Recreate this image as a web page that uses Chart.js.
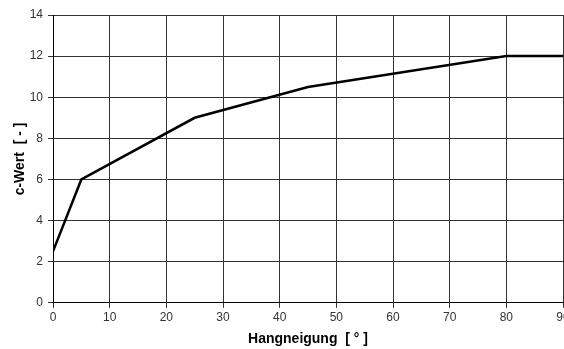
<!DOCTYPE html>
<html lang="de">
<head>
  <meta charset="UTF-8" />
  <title>c-Wert</title>
  <script src="https://cdn.jsdelivr.net/npm/chart.js"></script>
  <style>
    html, body { margin: 0; padding: 0; background: #fff; overflow: hidden; }
    #wrap { width: 564px; height: 349px; overflow: hidden; }
  </style>
</head>
<body>
  <div id="wrap">
    <canvas id="chart" width="584" height="349"></canvas>
  </div>
  <script>
    // Hangneigung [°] and c-Wert [-]
    const slope = [0, 5, 25, 45, 80, 90];
    const cValue = [2.5, 6, 9, 10.5, 12, 12];
    const xTicks = [0, 10, 20, 30, 40, 50, 60, 70, 80, 90];
    const yTicks = [0, 2, 4, 6, 8, 10, 12, 14];

    const points = slope.map(function (x, i) { return { x: x, y: cValue[i] }; });
    const font = { family: 'Liberation Sans, Arial, sans-serif', size: 12 };
    const titleFont = { family: font.family, size: 14, weight: 'bold' };

    new Chart(document.getElementById('chart'), {
      type: 'scatter',
      data: {
        datasets: [{
          data: points,
          showLine: true,
          borderColor: '#000',
          borderWidth: 2.5,
          pointRadius: 0,
          tension: 0
        }]
      },
      options: {
        responsive: false,
        animation: false,
        layout: { padding: { left: 6, right: 21, top: 15, bottom: 1 } },
        plugins: { legend: { display: false }, tooltip: { enabled: false } },
        scales: {
          x: {
            type: 'linear',
            min: 0, max: 90,
            afterBuildTicks: function (axis) { axis.ticks = xTicks.map(function (v) { return { value: v }; }); },
            ticks: { color: '#333', font: font, padding: 3, maxRotation: 0 },
            grid: { color: '#333', tickLength: 5 },
            border: { color: '#000' },
            title: { display: true, text: 'Hangneigung  [ ° ]', color: '#000',
                     font: titleFont, padding: { top: 3, bottom: 0 } }
          },
          y: {
            min: 0, max: 14,
            afterBuildTicks: function (axis) { axis.ticks = yTicks.map(function (v) { return { value: v }; }); },
            afterFit: function (axis) { axis.width = 47; },
            ticks: { color: '#333', font: font, padding: 5 },
            grid: { color: '#333', tickLength: 5 },
            border: { color: '#000' },
            title: { display: true, text: 'c-Wert  [ - ]', color: '#000',
                     font: titleFont, padding: { top: 6, bottom: 0 } }
          }
        }
      }
    });
  </script>
</body>
</html>
